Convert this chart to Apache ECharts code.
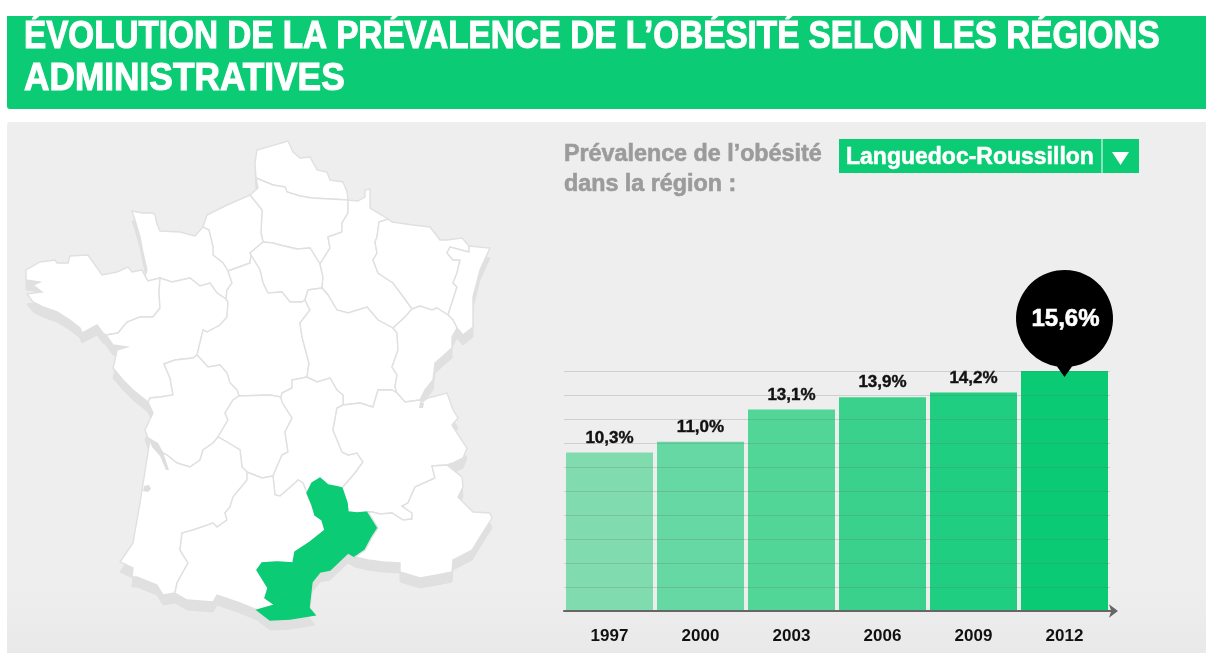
<!DOCTYPE html>
<html>
<head>
<meta charset="utf-8">
<title>Obésité</title>
<style>
html,body{margin:0;padding:0;background:#fff;}
#chart{width:1206px;height:653px;}
</style>
<script src="https://cdn.jsdelivr.net/npm/echarts@6/dist/echarts.min.js"></script>
</head>
<body>
<div id="chart"></div>
<script>
var years = ["1997", "2000", "2003", "2006", "2009", "2012"];
var prevalence = [10.3, 11.0, 13.1, 13.9, 14.2, 15.6];
var barColors = ["#80dcae", "#66d8a3", "#51d698", "#39d18b", "#1fce80", "#0aca73"];
var axisMax = 15.6;
var gridStep = 1.56;
var selectedRegion = "Languedoc-Roussillon";

var GREEN = "#0bcc74";
var FONT = '"Liberation Sans", Arial, sans-serif';

/* contours des regions, tracés a la main sur la carte (pixels de l'image) */
var arcs = {
	nord_sea: [[256,178],[255,163],[257,150],[288,141],[293,152],[300,158],[310,157],[317,170],[327,172],[330,180],[343,182],[347,192],[348,200]],
	nord_pic: [[256,178],[273,185],[285,187],[287,192],[300,196],[312,198],[348,200]],
	pic_sea: [[256,178],[258,188],[250,195]],
	pic_hn: [[250,195],[262,210],[261,233],[263,242]],
	pic_idf: [[263,242],[273,243],[280,245],[297,249],[310,248],[320,264]],
	pic_cha: [[320,264],[330,248],[328,237],[342,232],[342,223],[348,213],[348,200]],
	hn_sea: [[250,195],[227,205],[207,215],[203,227]],
	hn_idf: [[263,242],[250,253],[251,255]],
	hn_cen: [[251,255],[250,263],[228,271]],
	hn_bn: [[228,271],[223,263],[213,255],[213,247],[209,230],[203,227]],
	bn_sea: [[203,227],[195,236],[180,232],[160,231],[157,224],[155,215],[153,213],[143,213],[132,211],[135,220],[140,237],[143,253],[147,270],[145,276]],
	bn_bre: [[145,276],[148,281],[160,278]],
	bn_pdl: [[160,278],[172,282],[190,278],[200,286],[210,283],[217,293],[226,299]],
	bn_cen: [[226,299],[227,290],[232,283],[228,271]],
	idf_cen: [[251,255],[260,270],[263,283],[268,293],[282,292],[290,302],[302,302],[305,300]],
	idf_bou: [[305,300],[308,290],[322,288]],
	idf_cha: [[322,288],[323,277],[320,264]],
	bre_sea: [[145,276],[142,270],[132,272],[128,267],[117,272],[102,275],[88,255],[70,256],[68,263],[57,263],[55,260],[40,262],[26,270],[26,280],[40,282],[33,285],[42,292],[27,294],[33,302],[43,307],[57,312],[70,320],[80,328],[82,333],[97,325],[103,333],[106,335]],
	bre_pdl: [[160,278],[159,293],[160,308],[153,317],[140,317],[127,322],[118,333],[106,335]],
	pdl_sea: [[106,335],[113,345],[127,347],[117,350],[115,360],[113,368],[123,380],[133,390],[148,402]],
	pdl_cen: [[226,299],[228,302],[227,317],[220,325],[207,332],[203,330],[197,355]],
	pdl_pc: [[197,355],[193,358],[175,360],[164,364],[170,378],[173,395],[160,397],[150,398],[148,402]],
	pc_sea: [[148,402],[153,413],[145,430],[148,438],[163,453]],
	pc_cen: [[197,355],[208,367],[220,365],[227,373],[230,383],[237,390],[239,396]],
	pc_lim: [[239,396],[233,400],[225,413],[228,420],[218,437]],
	pc_aq: [[163,453],[167,455],[177,463],[190,467],[200,460],[203,450],[213,443],[218,437]],
	cen_lim: [[239,396],[270,395],[281,397]],
	cen_auv: [[281,397],[282,393],[292,388],[292,380],[307,377]],
	cen_bou: [[305,300],[310,310],[300,323],[302,337],[309,363],[307,377]],
	lim_auv: [[281,397],[282,402],[292,418],[285,432],[288,452],[282,455],[273,476]],
	lim_mp: [[273,476],[262,478],[247,472]],
	lim_aq: [[247,472],[242,467],[240,450],[227,442],[218,437]],
	aq_sea: [[163,453],[150,440],[140,503],[133,543],[120,562],[133,568],[132,577],[137,577],[157,585],[163,595],[175,593]],
	aq_mp: [[247,472],[247,480],[233,497],[230,507],[225,513],[227,520],[217,527],[213,523],[193,530],[182,533],[180,550],[188,563],[177,583],[175,593]],
	mp_sea: [[175,593],[187,600],[213,602],[217,595],[240,603],[257,610]],
	mp_auv: [[273,476],[275,495],[280,496],[295,483],[298,480],[303,483],[307,493]],
	mp_lr: [[257,610],[275,605],[265,598],[268,588],[257,570],[262,563],[277,562],[293,563],[295,552],[310,542],[325,530],[322,520],[315,515],[312,505],[307,493]],
	lr_auv: [[307,493],[312,483],[320,478],[328,485],[338,487],[342,488]],
	lr_ra: [[342,488],[347,503],[348,512],[357,513],[368,512]],
	lr_pa: [[368,512],[378,528],[372,537],[365,550],[355,557]],
	lr_sea: [[355,557],[348,553],[330,570],[320,572],[312,582],[309,608],[315,615],[290,619],[270,620],[257,610]],
	auv_bou: [[307,377],[317,382],[330,378],[337,390],[343,395],[343,405]],
	auv_ra: [[343,405],[337,408],[333,430],[342,452],[348,455],[357,453],[363,462],[355,473],[342,488]],
	bou_cha: [[322,288],[328,295],[337,310],[348,313],[367,307],[378,320],[393,328]],
	bou_fc: [[393,328],[397,333],[398,350],[392,367],[397,375],[395,387],[397,393]],
	bou_ra: [[343,405],[360,403],[373,407],[378,390],[392,390],[397,393]],
	cha_out: [[348,200],[358,201],[365,197],[365,190],[370,189],[370,208],[388,219]],
	cha_lor: [[388,219],[379,222],[377,237],[375,242],[377,253],[373,260],[378,273],[393,283],[402,295],[412,309]],
	cha_fc: [[393,328],[405,317],[412,309]],
	lor_out: [[388,219],[392,222],[413,225],[430,227],[440,240],[447,240],[462,238],[469,246]],
	lor_als: [[469,246],[469,252],[450,247],[447,253],[453,260],[460,260],[457,273],[453,283],[457,287],[448,315]],
	lor_fc: [[412,309],[420,306],[432,310],[437,308],[448,315]],
	als_out: [[469,246],[490,248],[480,270],[473,297],[473,327],[463,335],[457,328]],
	als_fc: [[448,315],[453,320],[457,328]],
	fc_out: [[457,328],[452,337],[452,348],[435,363],[433,380],[425,390],[420,400]],
	fc_ra: [[397,393],[405,402],[420,400]],
	ra_out: [[420,400],[422,402],[428,398],[447,393],[453,410],[458,418],[452,425],[457,433],[467,448],[463,458],[453,463],[447,465]],
	ra_pa: [[368,512],[372,512],[380,514],[392,513],[403,520],[412,519],[412,513],[402,506],[408,503],[415,487],[435,478],[432,466],[447,465]],
	pa_out: [[447,465],[462,477],[463,487],[458,497],[473,512],[490,513],[492,518],[480,537],[472,550],[453,560],[452,572],[437,575],[420,578],[400,572],[400,563],[383,562],[368,560],[355,557]]
};

var regionRings = {
	"Nord-Pas-de-Calais": ["nord_sea", "-nord_pic"],
	"Picardie": ["pic_sea", "pic_hn", "pic_idf", "pic_cha", "-nord_pic"],
	"Haute-Normandie": ["hn_sea", "-hn_bn", "-hn_cen", "-hn_idf", "-pic_hn"],
	"Basse-Normandie": ["bn_sea", "bn_bre", "bn_pdl", "bn_cen", "hn_bn"],
	"Île-de-France": ["pic_idf", "-idf_cha", "-idf_bou", "-idf_cen", "-hn_idf"],
	"Champagne-Ardenne": ["cha_out", "cha_lor", "-cha_fc", "-bou_cha", "idf_cha", "pic_cha"],
	"Lorraine": ["lor_out", "lor_als", "-lor_fc", "-cha_lor"],
	"Alsace": ["als_out", "-als_fc", "-lor_als"],
	"Bretagne": ["bre_sea", "-bre_pdl", "-bn_bre"],
	"Pays de la Loire": ["pdl_sea", "-pdl_pc", "-pdl_cen", "-bn_pdl", "bre_pdl"],
	"Centre": ["hn_cen", "-bn_cen", "pdl_cen", "pc_cen", "cen_lim", "cen_auv", "-cen_bou", "-idf_cen"],
	"Bourgogne": ["idf_bou", "bou_cha", "bou_fc", "-bou_ra", "-auv_bou", "-cen_bou"],
	"Franche-Comté": ["cha_fc", "lor_fc", "als_fc", "fc_out", "-fc_ra", "-bou_fc"],
	"Poitou-Charentes": ["pc_sea", "pc_aq", "-pc_lim", "-pc_cen", "pdl_pc"],
	"Limousin": ["-cen_lim", "pc_lim", "-lim_aq", "-lim_mp", "-lim_auv"],
	"Auvergne": ["-cen_auv", "lim_auv", "mp_auv", "lr_auv", "-auv_ra", "-auv_bou"],
	"Rhône-Alpes": ["bou_ra", "fc_ra", "ra_out", "-ra_pa", "-lr_ra", "-auv_ra"],
	"Aquitaine": ["aq_sea", "-aq_mp", "lim_aq", "-pc_aq"],
	"Midi-Pyrénées": ["mp_sea", "mp_lr", "-mp_auv", "lim_mp", "aq_mp"],
	"Languedoc-Roussillon": ["-mp_lr", "-lr_sea", "-lr_pa", "-lr_ra", "-lr_auv"],
	"Provence-Alpes-Côte d'Azur": ["pa_out", "-lr_pa", "ra_pa"]
};
var regionNames = Object.keys(regionRings);

var ringPath = function(names){
	var pts = [];
	names.forEach(function(n){
		var rev = n.charAt(0) == "-";
		var a = arcs[rev ? n.slice(1) : n].slice();
		if(rev) a.reverse();
		pts = pts.concat(a.slice(1));
	});
	return "M" + pts.map(function(p){ return p[0] + " " + p[1]; }).join("L") + "Z";
}

var buildSvg = function(){
	var shadow = "", regions = "";
	regionNames.forEach(function(name){
		var d = ringPath(regionRings[name]);
		shadow += '<path d="' + d + '" fill="#e0e0e0" stroke="#e0e0e0" stroke-width="1" transform="translate(0,10)"/>';
		regions += '<path name="' + name + '" d="' + d + '"/>';
	});
	// estuaire de la Gironde, bassin d'Arcachon, lac Leman
	var details = '<path d="M148 437L158 443L163 452L169 470L166 470L160 456L152 447Z" fill="#dedede"/>'
		+ '<path d="M144 486L149 485L151 489L148 492L143 491Z" fill="#dedede"/>'
		+ '<path d="M420 402L424 403L423 408L419 408Z" fill="#dedede"/>';
	return '<svg xmlns="http://www.w3.org/2000/svg" width="1206" height="653" viewBox="0 0 1206 653">' + shadow + regions + details + '</svg>';
}

echarts.registerMap("france", {svg: buildSvg()});

var chart = echarts.init(document.getElementById("chart"));

var barData = prevalence.map(function(v, i){
	return {
		value: v,
		itemStyle: {color: barColors[i]},
		label: {show: i < prevalence.length - 1}
	};
});

var fmt = function(v){
	return v.toFixed(1).replace(".", ",") + "%";
}

var lastIndex = prevalence.length - 1;

// le titre est condensé : pas de Narrow installée, on serre la Liberation
var titleLine = function(text, y, scale){
	return {type: "text", z: 11, x: 24, y: y, scaleX: scale, style: {
		text: text, fill: "#fff", font: "bold 38px " + FONT, verticalAlign: "middle",
		stroke: "#fff", lineWidth: 1.1
	}};
}

chart.setOption({
	animation: false,
	title: [{
		text: "Prévalence de l’obésité\ndans la région :",
		left: 559,
		top: 135,
		textStyle: {fontFamily: FONT, fontSize: 23.3, fontWeight: "bold", color: "#9b9b9b", lineHeight: 30, textBorderColor: "#9b9b9b", textBorderWidth: 0.6}
	}],
	graphic: [
		{type: "rect", z: -2, shape: {x: 7, y: 16, width: 1199, height: 93, r: [0, 0, 0, 3]}, style: {fill: GREEN}},
		{type: "rect", z: -2, shape: {x: 7, y: 122, width: 1199, height: 531, r: [3, 0, 0, 0]}, style: {
			fill: new echarts.graphic.LinearGradient(0, 0, 0, 1, [
				{offset: 0, color: "#eeeeee"},
				{offset: 0.88, color: "#eeeeee"},
				{offset: 1, color: "#e9e9e9"}
			])
		}},
		titleLine("ÉVOLUTION DE LA PRÉVALENCE DE L’OBÉSITÉ SELON LES RÉGIONS", 38, 0.875),
		titleLine("ADMINISTRATIVES", 80, 0.928),
		{type: "rect", z: 10, shape: {x: 839, y: 139, width: 300, height: 34}, style: {fill: GREEN}},
		{type: "line", z: 11, shape: {x1: 1102, y1: 139, x2: 1102, y2: 173}, style: {stroke: "#fff", lineWidth: 1}},
		{type: "polygon", z: 11, shape: {points: [[1112, 152], [1129, 152], [1120.5, 165]]}, style: {fill: "#fff"}},
		{type: "text", z: 11, x: 846, y: 157.5, style: {
			text: selectedRegion, fill: "#fff", font: "bold 23px " + FONT, verticalAlign: "middle", stroke: "#fff", lineWidth: 0.5
		}},
		{type: "line", z: 8, shape: {x1: 1110, y1: 611, x2: 1115, y2: 611}, style: {stroke: "#666", lineWidth: 2}}
	],
	grid: {left: 564, top: 371, width: 546, bottom: 42, containLabel: false},
	xAxis: {
		type: "category",
		data: years,
		z: 4,
		axisTick: {show: false},
		axisLine: {
			lineStyle: {color: "#666", width: 2},
			symbol: ["none", "arrow"],
			symbolSize: [10, 9],
			symbolOffset: [0, 8]
		},
		axisLabel: {
			margin: 17,
			fontFamily: FONT,
			fontSize: 17,
			fontWeight: "bold",
			color: "#111"
		}
	},
	yAxis: {
		type: "value",
		min: 0,
		max: axisMax,
		interval: gridStep,
		z: 4,
		axisLine: {show: false},
		axisTick: {show: false},
		axisLabel: {show: false},
		splitLine: {lineStyle: {color: "rgba(110,110,110,0.24)", width: 1}}
	},
	series: [{
		type: "map",
		map: "france",
		layoutCenter: ["50%", "50%"],
		layoutSize: 1206,
		silent: true,
		selectedMode: false,
		label: {show: false},
		itemStyle: {areaColor: "#fff", borderColor: "#e0e0e0", borderWidth: 1.4},
		emphasis: {disabled: true},
		data: regionNames.map(function(n){
			if(n == selectedRegion){
				return {name: n, itemStyle: {areaColor: GREEN, borderColor: GREEN}};
			}
			return {name: n};
		})
	}, {
		type: "bar",
		data: barData,
		barWidth: 87,
		silent: true,
		label: {
			show: true,
			position: "top",
			distance: 6,
			fontFamily: FONT,
			fontSize: 17,
			fontWeight: "bold",
			color: "#111",
			textBorderColor: "#111",
			textBorderWidth: 0.4,
			formatter: function(p){ return fmt(p.value); }
		},
		markPoint: {
			z: 6,
			silent: true,
			symbol: "path://M41 96.5L48.5 107L56 96.5A48.5 48.5 0 1 0 41 96.5Z",
			symbolSize: [97, 107],
			symbolOffset: [0, -47.5],
			itemStyle: {color: "#000"},
			label: {
				show: true,
				position: "inside",
				offset: [1, -4],
				fontFamily: FONT,
				fontSize: 24,
				fontWeight: "bold",
				color: "#fff",
				textBorderColor: "#fff",
				textBorderWidth: 0.6,
				formatter: function(){ return fmt(prevalence[lastIndex]); }
			},
			data: [{coord: [years[lastIndex], prevalence[lastIndex]]}]
		}
	}]
});
</script>
</body>
</html>
